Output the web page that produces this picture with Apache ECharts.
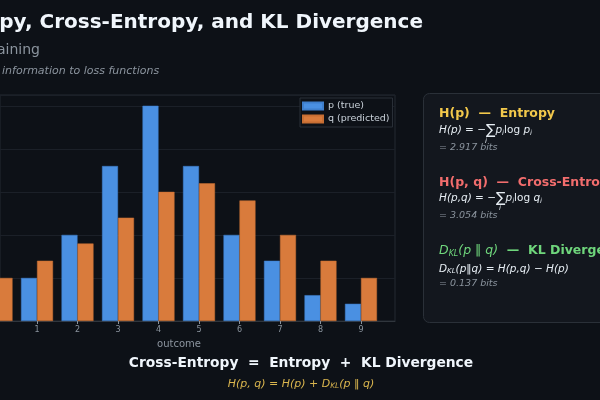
<!DOCTYPE html>
<html>
<head>
    <meta charset="utf-8">
    <title>Entropy, Cross-Entropy, and KL Divergence</title>
    <script src="https://cdn.jsdelivr.net/npm/echarts@6/dist/echarts.min.js"></script>
    <style>
        html, body { margin: 0; padding: 0; background: #0d1117; }
        #chart { width: 600px; height: 400px; }
    </style>
</head>
<body>
    <div id="chart"></div>
    <script>
        // outcomes 0..9, true and predicted distributions
        var outcomes = [0, 1, 2, 3, 4, 5, 6, 7, 8, 9];
        var pTrue = [0.02, 0.05, 0.10, 0.18, 0.25, 0.18, 0.10, 0.07, 0.03, 0.02];
        var qPred = [0.05, 0.07, 0.09, 0.12, 0.15, 0.16, 0.14, 0.10, 0.07, 0.05];
        var tickLabels = ['0', '1', '2', '3', '4', '5', '6', '7', '8', '9'];
        var entropyBits = '2.917';
        var crossEntropyBits = '3.054';
        var klBits = '0.137';

        var font = 'DejaVu Sans';
        var bg = '#0d1117';
        var muted = '#8b949e';
        var ink = '#e6edf3';

        var chart = echarts.init(document.getElementById('chart'));

        var mathRich = {
            m: { fontFamily: font, fontStyle: 'italic', fontSize: 10.5, fill: ink },
            n: { fontFamily: font, fontSize: 10.5, fill: ink },
            s: { fontFamily: font, fontSize: 14, fill: ink },
            sub: { fontFamily: font, fontStyle: 'italic', fontSize: 7, fill: ink, verticalAlign: 'bottom', padding: [3, 0, 0, 0] }
        };

        function text(x, y, str, style) {
            return {
                type: 'text', x: x, y: y, silent: true,
                style: Object.assign({ text: str, fontFamily: font, verticalAlign: 'middle' }, style)
            };
        }

        chart.setOption({
            backgroundColor: bg,
            animation: false,
            // the plot is cropped on the left: axis starts a bit past outcome 0
            grid: {
                left: 0, right: 205, top: 95, bottom: 79,
                show: true, borderColor: '#242a33', borderWidth: 1
            },
            legend: {
                orient: 'vertical',
                left: 300, top: 98,
                itemWidth: 20, itemHeight: 7, itemGap: 3,
                padding: [3, 3, 3, 2],
                backgroundColor: bg,
                borderColor: '#2a3038', borderWidth: 1,
                icon: 'rect',
                textStyle: { color: '#c9d1d9', fontFamily: font, fontSize: 9.5 },
                data: ['p (true)', 'q (predicted)']
            },
            xAxis: {
                type: 'value',
                min: 0.086, max: 9.84,
                name: 'outcome',
                nameLocation: 'middle',
                nameGap: 18,
                nameTextStyle: { color: muted, fontFamily: font, fontSize: 10, padding: [0, 0, 0, -37] },
                axisLine: { show: true, lineStyle: { color: '#30363d' } },
                axisTick: { show: true, length: 3, lineStyle: { color: '#8b949e' }, customValues: outcomes.slice(1) },
                axisLabel: {
                    color: muted, fontFamily: font, fontSize: 8, margin: 5,
                    customValues: outcomes.slice(1),
                    formatter: function (v) { return tickLabels[v]; }
                },
                splitLine: { show: false }
            },
            yAxis: {
                type: 'value',
                min: 0, max: 0.2625, interval: 0.05,
                axisLine: { show: false },
                axisTick: { show: false },
                axisLabel: { show: false },
                splitLine: { lineStyle: { color: '#1b2028', width: 1 } }
            },
            series: [{
                name: 'p (true)',
                type: 'bar',
                barWidth: 16,
                barGap: '0%',
                clip: true,
                itemStyle: { color: '#4a90e2', borderColor: '#3f7fcc', borderWidth: 0.5 },
                data: outcomes.map(function (o, i) { return [o, pTrue[i]]; })
            }, {
                name: 'q (predicted)',
                type: 'bar',
                barWidth: 16,
                barGap: '0%',
                clip: true,
                itemStyle: { color: '#d97b3c', borderColor: '#c76e33', borderWidth: 0.5 },
                data: outcomes.map(function (o, i) { return [o, qPred[i]]; })
            }],
            graphic: [
                text(423, 23, 'Entropy, Cross-Entropy, and KL Divergence', {
                    align: 'right', fontSize: 20, fontWeight: 'bold', fill: '#f0f6fc'
                }),
                text(40, 50, 'Training', { align: 'right', fontSize: 14, fill: muted }),
                text(2, 71, 'information to loss functions', { fontSize: 11, fontStyle: 'italic', fill: muted }),

                {
                    type: 'rect', silent: true,
                    shape: { x: 423.5, y: 93.5, width: 200, height: 229, r: 6 },
                    style: { fill: '#13171e', stroke: '#2a3038', lineWidth: 1 }
                },

                // entropy
                text(439, 114, 'H(p)  —  Entropy', { fontSize: 12.5, fontWeight: 'bold', fill: '#f2c84b' }),
                text(439, 130, '{m|H(p) = −}{s|∑}{m|p}{sub|i}{n|log }{m|p}{sub|i}', { rich: mathRich }),
                text(486, 141, 'i', { fontSize: 7, fontStyle: 'italic', fill: ink, align: 'center' }),
                text(439, 148, '= ' + entropyBits + ' bits', { fontSize: 9.5, fontStyle: 'italic', fill: muted }),

                // cross-entropy
                text(439, 183, 'H(p, q)  —  Cross-Entropy', { fontSize: 12.5, fontWeight: 'bold', fill: '#f26d6d' }),
                text(439, 198, '{m|H(p,q) = −}{s|∑}{m|p}{sub|i}{n|log }{m|q}{sub|i}', { rich: mathRich }),
                text(500, 208, 'i', { fontSize: 7, fontStyle: 'italic', fill: ink, align: 'center' }),
                text(439, 216, '= ' + crossEntropyBits + ' bits', { fontSize: 9.5, fontStyle: 'italic', fill: muted }),

                // kl divergence
                text(439, 251, '{d|D}{ds|KL}{d|(p ‖ q)}{b|  —  KL Divergence}', {
                    rich: {
                        d: { fontFamily: font, fontStyle: 'italic', fontSize: 12.5, fill: '#6fd67c' },
                        ds: { fontFamily: font, fontStyle: 'italic', fontSize: 8, fill: '#6fd67c', verticalAlign: 'bottom', padding: [4, 0, 0, 0] },
                        b: { fontFamily: font, fontWeight: 'bold', fontSize: 12.5, fill: '#6fd67c' }
                    }
                }),
                text(439, 269, '{m|D}{sub|KL}{m|(p‖q) = H(p,q) − H(p)}', { rich: mathRich }),
                text(439, 284, '= ' + klBits + ' bits', { fontSize: 9.5, fontStyle: 'italic', fill: muted }),

                // bottom identity
                text(301, 363, 'Cross-Entropy  =  Entropy  +  KL Divergence', {
                    align: 'center', fontSize: 13.8, fontWeight: 'bold', fill: '#f0f6fc'
                }),
                text(301, 384, '{m|H(p, q) = H(p) + D}{sub|KL}{m|(p ‖ q)}', {
                    align: 'center',
                    rich: {
                        m: { fontFamily: font, fontStyle: 'italic', fontSize: 11, fill: '#d9b54e' },
                        sub: { fontFamily: font, fontStyle: 'italic', fontSize: 7.5, fill: '#d9b54e', verticalAlign: 'bottom', padding: [4, 0, 0, 0] }
                    }
                })
            ]
        });
    </script>
</body>
</html>
